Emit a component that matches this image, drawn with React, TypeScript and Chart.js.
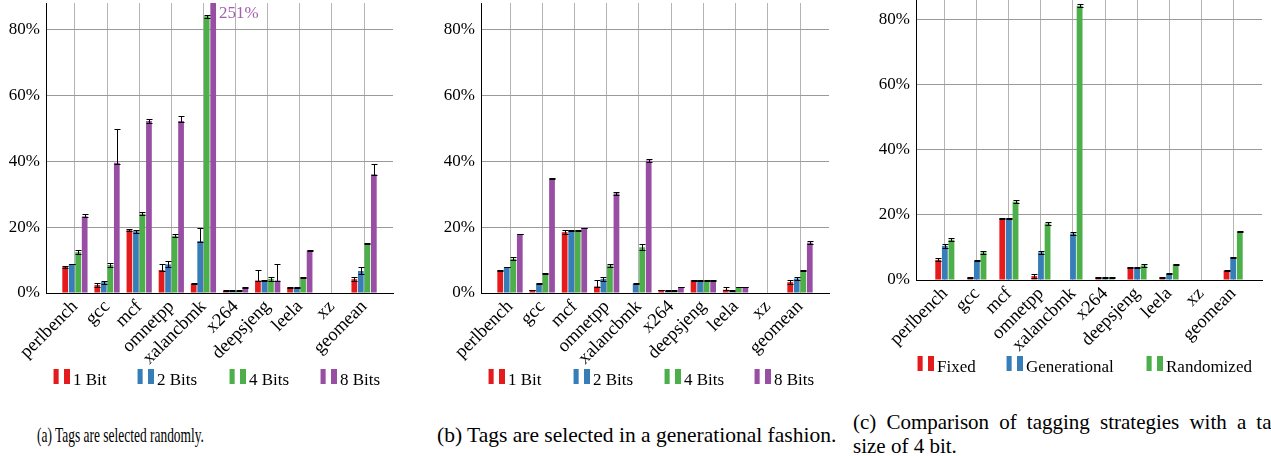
import { useEffect, useRef } from "react";
import { Chart, registerables } from "chart.js";

Chart.register(...registerables);
Chart.defaults.font.family = "'Liberation Serif', 'DejaVu Serif', serif";

// ---------- data ----------
const categories = ["perlbench", "gcc", "mcf", "omnetpp", "xalancbmk", "x264", "deepsjeng", "leela", "xz", "geomean"];
const yTickValues = [0, 20, 40, 60, 80];

const RED = "#e41a1c";
const BLUE = "#377eb8";
const GREEN = "#4daf4a";
const PURPLE = "#984ea3";

// (a) tags selected randomly
const randBit1 = [7.9, 2.4, 19.1, 7.0, 2.8, 0.7, 3.8, 1.7, null, 4.2];
const randBit1Plus = [0.2, 0.5, 0.3, 1.9, 0.1, 0.1, 3.1, 0.1, null, 0.6];
const randBit1Minus = [0.2, 0.5, 0.3, 0.2, 0.1, 0.1, 0.1, 0.1, null, 0.6];
const randBit2 = [8.8, 3.3, 18.8, 8.7, 15.8, 0.7, 3.8, 1.7, null, 6.7];
const randBit2Plus = [0.1, 0.5, 0.4, 1.1, 3.9, 0.1, 0.1, 0.1, null, 1.1];
const randBit2Minus = [0.1, 0.5, 0.4, 0.8, 0.2, 0.1, 0.1, 0.1, null, 0.9];
const randBit4 = [12.4, 8.5, 24.1, 17.4, 84.2, 0.7, 4.3, 4.8, null, 15.0];
const randBit4Plus = [0.6, 0.5, 0.5, 0.5, 0.5, 0.1, 0.5, 0.1, null, 0.1];
const randBit4Minus = [0.6, 0.5, 0.5, 0.5, 0.5, 0.1, 0.5, 0.1, null, 0.1];
const randBit8 = [23.3, 39.6, 52.3, 52.3, 251, 1.7, 3.8, 12.9, null, 36.1];
const randBit8Plus = [0.7, 10.4, 0.5, 1.6, 0, 0.1, 5.0, 0.1, null, 3.0];
const randBit8Minus = [0.3, 0.4, 0.5, 0.4, 0, 0.1, 0.1, 0.1, null, 0.1];

// (b) tags selected in a generational fashion
const genBit1 = [6.9, 0.9, 18.5, 2.0, 0, 0.9, 3.9, 1.0, null, 3.3];
const genBit1Plus = [0.1, 0.1, 0.6, 1.9, 0.1, 0.1, 0.1, 0.8, null, 0.6];
const genBit1Minus = [0.1, 0.1, 0.6, 0.1, 0.1, 0.1, 0.1, 0.1, null, 0.5];
const genBit2 = [7.9, 2.8, 19.1, 4.3, 2.8, 0.7, 3.9, 0.7, null, 4.4];
const genBit2Plus = [0.1, 0.1, 0.1, 0.5, 0.1, 0.1, 0.1, 0.1, null, 0.5];
const genBit2Minus = [0.1, 0.1, 0.1, 0.5, 0.1, 0.1, 0.1, 0.1, null, 0.5];
const genBit4 = [10.4, 5.9, 19.1, 8.4, 13.9, 0.7, 3.9, 1.8, null, 6.9];
const genBit4Plus = [0.5, 0.1, 0.1, 0.5, 0.9, 0.1, 0.1, 0.1, null, 0.1];
const genBit4Minus = [0.5, 0.1, 0.1, 0.5, 0.9, 0.1, 0.1, 0.1, null, 0.1];
const genBit8 = [17.9, 34.8, 19.8, 30.3, 40.3, 1.8, 3.9, 1.8, null, 15.3];
const genBit8Plus = [0.1, 0.1, 0.1, 0.5, 0.5, 0.1, 0.1, 0.1, null, 0.5];
const genBit8Minus = [0.1, 0.1, 0.1, 0.5, 0.5, 0.1, 0.1, 0.1, null, 0.5];

// (c) tagging strategies with a tag size of 4 bit
const fixedVals = [6.2, 0.8, 19.0, 1.2, null, 0.8, 3.9, 0.8, null, 2.9];
const fixedErr = [0.5, 0.1, 0.1, 0.6, null, 0.1, 0.1, 0.1, null, 0.1];
const generationalVals = [10.5, 5.9, 19.0, 8.5, 14.3, 0.8, 3.9, 1.9, null, 7.0];
const generationalErr = [0.6, 0.1, 0.1, 0.5, 0.6, 0.1, 0.1, 0.1, null, 0.1];
const randomizedVals = [12.4, 8.5, 24.1, 17.4, 84.4, 0.8, 4.5, 4.8, null, 15.0];
const randomizedErr = [0.5, 0.5, 0.5, 0.5, 0.5, 0.1, 0.5, 0.1, null, 0.1];

type Series = {
  label: string;
  color: string;
  values: (number | null)[];
  plus: (number | null)[];
  minus: (number | null)[];
};

const seriesA: Series[] = [
  { label: "1 Bit", color: RED, values: randBit1, plus: randBit1Plus, minus: randBit1Minus },
  { label: "2 Bits", color: BLUE, values: randBit2, plus: randBit2Plus, minus: randBit2Minus },
  { label: "4 Bits", color: GREEN, values: randBit4, plus: randBit4Plus, minus: randBit4Minus },
  { label: "8 Bits", color: PURPLE, values: randBit8, plus: randBit8Plus, minus: randBit8Minus },
];
const seriesB: Series[] = [
  { label: "1 Bit", color: RED, values: genBit1, plus: genBit1Plus, minus: genBit1Minus },
  { label: "2 Bits", color: BLUE, values: genBit2, plus: genBit2Plus, minus: genBit2Minus },
  { label: "4 Bits", color: GREEN, values: genBit4, plus: genBit4Plus, minus: genBit4Minus },
  { label: "8 Bits", color: PURPLE, values: genBit8, plus: genBit8Plus, minus: genBit8Minus },
];
const seriesC: Series[] = [
  { label: "Fixed", color: RED, values: fixedVals, plus: fixedErr, minus: fixedErr },
  { label: "Generational", color: BLUE, values: generationalVals, plus: generationalErr, minus: generationalErr },
  { label: "Randomized", color: GREEN, values: randomizedVals, plus: randomizedErr, minus: randomizedErr },
];

// ---------- plugins ----------
const errorBarPlugin = {
  id: "errorBars",
  afterDatasetsDraw(chart: any) {
    const { ctx, chartArea } = chart;
    const yScale = chart.scales.y;
    ctx.save();
    ctx.beginPath();
    ctx.rect(chartArea.left, chartArea.top - 1, chartArea.right - chartArea.left, chartArea.bottom - chartArea.top + 2);
    ctx.clip();
    ctx.strokeStyle = "#000";
    ctx.lineWidth = 1;
    chart.data.datasets.forEach((ds: any, di: number) => {
      const meta = chart.getDatasetMeta(di);
      meta.data.forEach((bar: any, i: number) => {
        const v = ds.data[i].y;
        if (v == null) return;
        const p = ds.errPlus[i] ?? 0;
        const m = ds.errMinus[i] ?? 0;
        const yHi = Math.round(yScale.getPixelForValue(v + p)) + 0.5;
        const yLo = Math.round(yScale.getPixelForValue(v - m)) + 0.5;
        const x = Math.round(bar.x) + 0.5;
        const half = 3;
        ctx.beginPath();
        ctx.moveTo(x, yHi);
        ctx.lineTo(x, yLo);
        ctx.moveTo(x - half, yHi);
        ctx.lineTo(x + half, yHi);
        ctx.moveTo(x - half, yLo);
        ctx.lineTo(x + half, yLo);
        ctx.stroke();
      });
    });
    ctx.restore();
  },
};

const overflowLabelPlugin = {
  id: "overflowLabels",
  afterDatasetsDraw(chart: any) {
    const { ctx, chartArea } = chart;
    const yMax = chart.scales.y.max;
    ctx.save();
    ctx.font = "17px 'Liberation Serif', serif";
    ctx.textAlign = "left";
    ctx.textBaseline = "middle";
    chart.data.datasets.forEach((ds: any, di: number) => {
      const meta = chart.getDatasetMeta(di);
      meta.data.forEach((bar: any, i: number) => {
        const v = ds.data[i].y;
        if (v == null || v <= yMax) return;
        ctx.fillStyle = "#a45fae";
        ctx.fillText(`${v}%`, bar.x + bar.width / 2 + 3, chartArea.top + 11);
      });
    });
    ctx.restore();
  },
};

// ---------- panel ----------
type PanelProps = {
  left: number;
  top: number;
  width: number;
  height: number;
  plotLeft: number;
  plotRight: number;
  plotTop: number;
  plotBottom: number;
  yMax: number;
  categoryPercentage: number;
  series: Series[];
};

function Panel(props: PanelProps) {
  const ref = useRef<HTMLCanvasElement | null>(null);
  useEffect(() => {
    if (!ref.current) return;
    const { width, height, plotLeft, plotRight, plotTop, plotBottom, yMax, categoryPercentage, series } = props;
    const chart = new Chart(ref.current, {
      type: "bar",
      data: {
        datasets: series.map((s) => ({
          label: s.label,
          data: s.values.map((v, i) => ({ x: i, y: v })),
          backgroundColor: s.color,
          borderWidth: 0,
          categoryPercentage,
          barPercentage: 0.88,
          errPlus: s.plus,
          errMinus: s.minus,
        })) as any,
      },
      options: {
        animation: false,
        responsive: false,
        maintainAspectRatio: false,
        devicePixelRatio: 1,
        layout: { padding: { left: 0, right: width - plotRight, top: plotTop, bottom: 0 } },
        plugins: { legend: { display: false }, tooltip: { enabled: false } },
        scales: {
          x: {
            type: "linear",
            min: -0.9,
            max: 9.9,
            offset: false,
            grid: { color: "#b4b4b4", drawTicks: false, offset: false, lineWidth: 1 },
            border: { display: true, color: "#000", width: 1 },
            ticks: {
              autoSkip: false,
              minRotation: 45,
              maxRotation: 45,
              padding: 3,
              color: "#000",
              font: { size: 18.5 },
              callback: (v: any) => categories[v as number] ?? "",
            },
            afterBuildTicks: (s: any) => {
              s.ticks = categories.map((_, i) => ({ value: i }));
            },
            afterFit: (s: any) => {
              s.height = height - plotBottom;
              s.paddingLeft = 0;
              s.paddingRight = 0;
            },
          } as any,
          y: {
            type: "linear",
            min: 0,
            max: yMax,
            grid: { color: "#9a9a9a", drawTicks: false, lineWidth: 1 },
            border: { display: true, color: "#000", width: 1 },
            ticks: {
              padding: 6,
              color: "#000",
              font: { size: 17 },
              callback: (v: any) => `${v}%`,
            },
            afterBuildTicks: (s: any) => {
              s.ticks = yTickValues.map((v) => ({ value: v }));
            },
            afterFit: (s: any) => {
              s.width = plotLeft;
              s.paddingTop = 0;
              s.paddingBottom = 0;
            },
          } as any,
        },
      },
      plugins: [errorBarPlugin, overflowLabelPlugin],
    });
    return () => chart.destroy();
  }, []);
  return (
    <canvas
      ref={ref}
      width={props.width}
      height={props.height}
      style={{ position: "absolute", left: props.left, top: props.top, width: props.width, height: props.height }}
    />
  );
}

type LegendItem = { label: string; color: string; x: number };

function Legend({ items, iconTop, textTop }: { items: LegendItem[]; iconTop: number; textTop: number }) {
  return (
    <>
      {items.map((it) => (
        <div key={it.label}>
          <div
            style={{
              position: "absolute",
              left: it.x,
              top: iconTop,
              width: 6,
              height: 15,
              background: it.color,
              boxShadow: "inset 1px 0 0 rgba(255,255,255,0.55), inset -1px 0 0 rgba(255,255,255,0.35)",
            }}
          />
          <div style={{ position: "absolute", left: it.x + 11, top: iconTop, width: 6, height: 15, background: it.color }} />
          <div
            style={{
              position: "absolute",
              left: it.x + 20,
              top: textTop,
              fontSize: 17,
              lineHeight: "17px",
              whiteSpace: "nowrap",
              color: "#000",
            }}
          >
            {it.label}
          </div>
        </div>
      ))}
    </>
  );
}

export default function App() {
  const legendAPos = [53, 137, 229, 320];
  const legendBPos = [488, 573, 664, 754];
  const legendCPos = [917, 1006, 1146];
  return (
    <div
      style={{
        position: "absolute",
        left: 0,
        top: 0,
        width: 1271,
        height: 456,
        overflow: "hidden",
        background: "#fff",
        fontFamily: "'Liberation Serif', 'DejaVu Serif', serif",
      }}
    >
      <Panel left={0} top={0} width={410} height={400} plotLeft={46} plotRight={393} plotTop={3} plotBottom={293} yMax={88.2} categoryPercentage={0.81} series={seriesA} />
      <Panel left={420} top={0} width={420} height={400} plotLeft={61} plotRight={409} plotTop={3} plotBottom={293} yMax={88.2} categoryPercentage={0.81} series={seriesB} />
      <Panel left={850} top={0} width={421} height={400} plotLeft={66} plotRight={412} plotTop={0} plotBottom={280} yMax={86.15} categoryPercentage={0.62} series={seriesC} />

      <Legend items={seriesA.map((s, i) => ({ label: s.label, color: s.color, x: legendAPos[i] }))} iconTop={369} textTop={371} />
      <Legend items={seriesB.map((s, i) => ({ label: s.label, color: s.color, x: legendBPos[i] }))} iconTop={369} textTop={371} />
      <Legend items={seriesC.map((s, i) => ({ label: s.label, color: s.color, x: legendCPos[i] }))} iconTop={356} textTop={358} />

      <div
        style={{
          position: "absolute",
          left: 37,
          top: 425,
          fontSize: 21,
          lineHeight: "21px",
          whiteSpace: "nowrap",
          transform: "scaleX(0.64)",
          transformOrigin: "left center",
        }}
      >
        (a) Tags are selected randomly.
      </div>
      <div style={{ position: "absolute", left: 437, top: 425, fontSize: 21.5, lineHeight: "21px", whiteSpace: "nowrap" }}>
        (b) Tags are selected in a generational fashion.
      </div>
      <div
        style={{
          position: "absolute",
          left: 853,
          top: 412,
          width: 429,
          fontSize: 21,
          lineHeight: "21px",
          whiteSpace: "nowrap",
          textAlign: "justify",
          textAlignLast: "justify",
        }}
      >
        (c) Comparison of tagging strategies with a tag
      </div>
      <div style={{ position: "absolute", left: 853, top: 436, fontSize: 21, lineHeight: "21px", whiteSpace: "nowrap" }}>
        size of 4 bit.
      </div>
    </div>
  );
}
